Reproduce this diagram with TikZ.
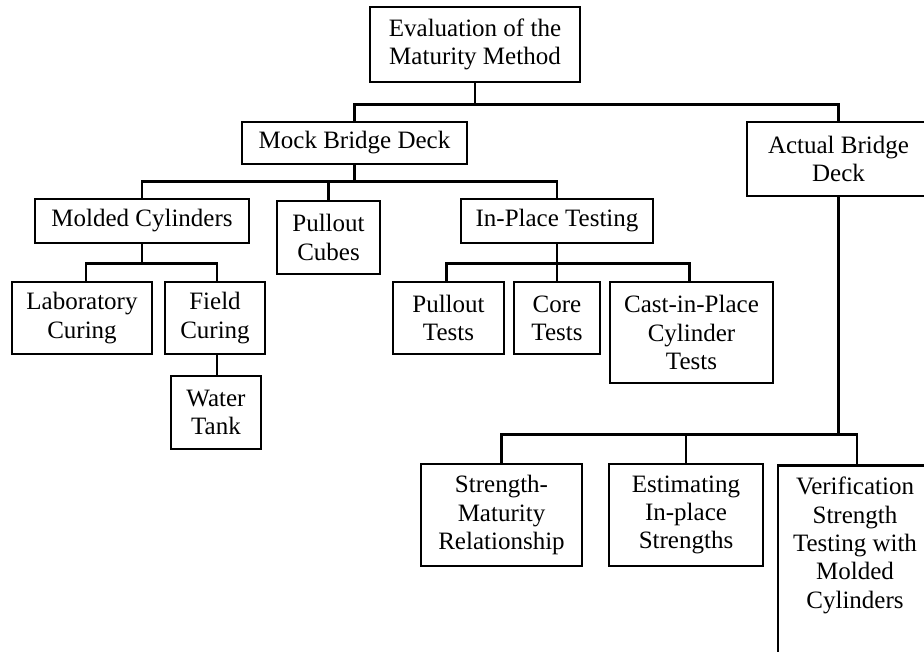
\documentclass[tikz,border=0pt]{standalone}
\usepackage{fontspec}
\setmainfont{Liberation Serif}
\begin{document}
\begin{tikzpicture}[x=1pt,y=-1pt,
  box/.style={draw, line width=2.6pt, inner sep=0pt, align=center,
    font=\fontsize{25}{28.3}\selectfont},
  txt/.style={inner sep=0pt, align=center, font=\fontsize{25}{28.3}\selectfont},
  conn/.style={line width=2.6pt}]
\clip (0,0) rectangle (924,651);
\useasboundingbox (0,0) rectangle (924,651);
% boxes
\node[box, minimum width=210, minimum height=75] (top) at (475,44.5) {Evaluation of the\\Maturity Method};
\node[box, minimum width=225, minimum height=42] (mock) at (354.5,143) {Mock Bridge Deck};
\node[box, minimum width=183, minimum height=74] (act) at (838.5,159) {Actual Bridge\\Deck};
\node[box, minimum width=214, minimum height=44] (molded) at (142,221) {Molded Cylinders};
\node[box, minimum width=103, minimum height=73] (cubes) at (328.5,237.5) {Pullout\\Cubes};
\node[box, minimum width=192, minimum height=44] (inplace) at (557,221) {In-Place Testing};
\node[box, minimum width=140, minimum height=72] (lab) at (82,318) {Laboratory\\Curing};
\node[box, minimum width=100, minimum height=72] (field) at (215,318) {Field\\Curing};
\node[box, minimum width=90, minimum height=73] (water) at (216,412.5) {Water\\Tank};
\node[box, minimum width=111, minimum height=72] (ptests) at (448.5,318) {Pullout\\Tests};
\node[box, minimum width=86, minimum height=72] (core) at (557,318) {Core\\Tests};
\node[box, minimum width=163, minimum height=101] (cast) at (691.5,332.5) {Cast-in-Place\\Cylinder\\Tests};
\node[box, minimum width=161, minimum height=102] (smr) at (501.5,515) {Strength-\\Maturity\\Relationship};
\node[box, minimum width=154, minimum height=102] (est) at (686,515) {Estimating\\In-place\\Strengths};
\node[box, minimum width=154, minimum height=250, anchor=north] (ver) at (855,464) {};
\node[txt, anchor=north] (vertext) at (855,477) {Verification\\Strength\\Testing with\\Molded\\Cylinders};
% connectors
\path (top.south) ++(0,21) coordinate (j0);
\draw[conn] (top.south) -- (j0) -| (mock.north);
\draw[conn] (j0) -| (act.north);
\path (mock.south) ++(0,16) coordinate (j1);
\draw[conn] (mock.south) -- (j1) -| (molded.north);
\draw[conn] (j1) -| (cubes.north);
\draw[conn] (j1) -| (inplace.north);
\path (molded.south) ++(0,19) coordinate (j2);
\draw[conn] (molded.south) -- (j2) -| ([xshift=4pt]lab.north);
\draw[conn] (j2) -| ([xshift=2pt]field.north);
\draw[conn] ([xshift=2pt]field.south) -- ([xshift=1pt]water.north);
\path (inplace.south) ++(0,19) coordinate (j3);
\draw[conn] (inplace.south) -- (j3) -| ([xshift=-2pt]ptests.north);
\draw[conn] (j3) -- (core.north);
\draw[conn] (j3) -| ([xshift=-2pt]cast.north);
\path (act.south) ++(0,237) coordinate (j4);
\draw[conn] (act.south) -- (j4) -| (smr.north);
\draw[conn] (j4) -| (est.north);
\draw[conn] (j4) -| ([xshift=2pt]ver.north);
\end{tikzpicture}
\end{document}
